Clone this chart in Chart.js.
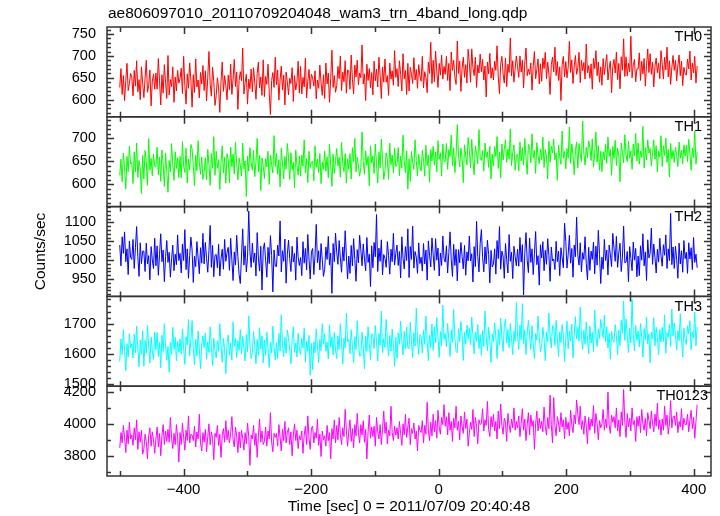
<!DOCTYPE html>
<html>
<head>
<meta charset="utf-8">
<title>wam3 trn 4band light curve</title>
<script src="https://cdn.jsdelivr.net/npm/chart.js@4.4.1/dist/chart.umd.min.js"></script>
<style>
  html, body { margin: 0; padding: 0; background: #fff; }
  #wrap { position: relative; width: 720px; height: 516px; }
</style>
</head>
<body>
<div id="wrap"><canvas id="lc" width="720" height="516"></canvas></div>
<script>
// ═══════════════════════════════════════════════════
// QDP light curve (WAM TH0..TH3 + sum) in Chart.js
// ═══════════════════════════════════════════════════

const TITLE = 'ae806097010_20110709204048_wam3_trn_4band_long.qdp';
const X_TITLE = 'Time [sec] 0 = 2011/07/09 20:40:48';
const Y_TITLE = 'Counts/sec';

// time bins: first bin centre and bin width (sec)
const T_START = -500;
const T_BIN = 1.89;

const TH0 = [
  628, 671, 612, 655, 598, 644, 683, 621, 637, 660, 652, 609, 667, 631, 689, 618, 646, 600, 675, 637,
  605, 649, 690, 617, 633, 668, 586, 642, 659, 624, 661, 624, 694, 643, 588, 657, 615, 680, 639, 603,
  701, 611, 646, 630, 675, 594, 652, 620, 667, 638, 648, 672, 614, 699, 633, 590, 659, 626, 684, 645,
  583, 657, 616, 693, 629, 645, 604, 662, 636, 678, 621, 666, 597, 651, 710, 635, 608, 674, 642, 587,
  609, 650, 627, 571, 641, 686, 619, 655, 632, 600, 656, 623, 681, 612, 647, 692, 630, 663, 578, 644,
  664, 643, 718, 613, 639, 658, 590, 647, 625, 670, 618, 673, 639, 601, 660, 686, 627, 652, 610, 691,
  607, 653, 635, 681, 616, 566, 644, 662, 628, 697, 634, 668, 599, 645, 677, 622, 656, 588, 663, 641,
  611, 649, 637, 673, 596, 655, 622, 640, 688, 615, 676, 613, 651, 629, 695, 604, 642, 669, 625, 658,
  650, 631, 666, 602, 645, 626, 679, 638, 610, 657, 603, 684, 636, 661, 594, 649, 713, 628, 655, 617,
  632, 676, 648, 700, 621, 663, 641, 689, 615, 668, 666, 624, 702, 647, 613, 679, 652, 690, 634, 661,
  650, 725, 636, 659, 598, 681, 644, 671, 627, 662, 611, 688, 643, 670, 629, 697, 656, 603, 675, 640,
  693, 640, 655, 610, 684, 647, 666, 633, 712, 651, 671, 630, 689, 658, 620, 705, 648, 667, 612, 683,
  620, 674, 658, 637, 696, 645, 669, 626, 680, 654, 642, 699, 627, 664, 651, 616, 686, 660, 731, 637,
  690, 641, 711, 665, 628, 683, 656, 702, 647, 676, 658, 699, 644, 683, 621, 709, 667, 690, 652, 635,
  734, 660, 688, 619, 672, 697, 651, 680, 638, 715, 684, 640, 716, 673, 655, 697, 628, 679, 661, 704,
  664, 692, 645, 677, 606, 686, 659, 706, 649, 673, 645, 688, 667, 723, 652, 614, 681, 699, 659, 638,
  695, 630, 681, 662, 741, 654, 689, 640, 671, 700, 676, 651, 700, 663, 690, 627, 684, 718, 655, 670,
  658, 684, 622, 677, 710, 648, 669, 693, 636, 682, 642, 695, 671, 708, 648, 686, 659, 612, 680, 697,
  663, 720, 655, 687, 644, 675, 598, 680, 699, 652, 687, 650, 674, 733, 662, 691, 637, 677, 701, 658,
  673, 708, 639, 690, 666, 685, 647, 727, 661, 678, 649, 682, 624, 694, 671, 712, 655, 686, 640, 675,
  633, 694, 657, 681, 703, 645, 672, 688, 616, 676, 692, 661, 709, 646, 683, 625, 698, 667, 739, 653,
  698, 654, 683, 664, 745, 650, 679, 692, 641, 670, 670, 707, 644, 688, 659, 694, 631, 678, 716, 662,
  705, 658, 686, 629, 677, 695, 661, 684, 648, 712, 681, 647, 697, 668, 720, 652, 689, 635, 674, 701,
  667, 690, 643, 679, 702, 655, 688, 632, 674, 660, 656, 693, 670, 711, 645, 684, 661, 699, 638, 677
];

const TH1 = [
  620, 655, 606, 668, 637, 590, 661, 628, 683, 645, 648, 602, 671, 627, 690, 615, 652, 634, 580, 663,
  612, 674, 650, 598, 700, 631, 657, 619, 666, 640, 638, 681, 621, 659, 607, 675, 644, 596, 668, 629,
  583, 652, 627, 689, 644, 609, 671, 635, 658, 615, 661, 614, 693, 640, 626, 679, 603, 655, 632, 687,
  677, 641, 597, 663, 630, 695, 648, 622, 660, 611, 626, 658, 610, 676, 643, 598, 667, 635, 704, 620,
  672, 636, 654, 589, 646, 684, 625, 659, 603, 667, 653, 604, 681, 639, 666, 623, 692, 645, 610, 657,
  642, 618, 690, 634, 651, 574, 662, 629, 680, 647, 631, 674, 617, 649, 700, 628, 663, 587, 658, 640,
  613, 656, 638, 672, 600, 664, 643, 625, 706, 639, 668, 622, 654, 595, 679, 646, 612, 661, 633, 689,
  658, 611, 669, 632, 648, 593, 675, 641, 620, 662, 618, 664, 640, 697, 625, 656, 604, 672, 637, 649,
  651, 608, 684, 637, 655, 626, 667, 602, 649, 633, 673, 629, 660, 615, 687, 641, 596, 666, 624, 652,
  678, 640, 659, 616, 692, 645, 628, 667, 603, 656, 633, 667, 612, 680, 650, 700, 627, 659, 640, 618,
  637, 714, 650, 622, 673, 641, 661, 597, 684, 646, 662, 624, 688, 645, 603, 671, 636, 698, 655, 611,
  630, 669, 654, 611, 690, 643, 664, 625, 679, 639, 644, 680, 619, 662, 636, 707, 650, 626, 673, 590,
  656, 607, 672, 648, 633, 697, 652, 618, 666, 641, 629, 674, 653, 618, 685, 641, 664, 605, 676, 651,
  683, 642, 671, 627, 695, 655, 669, 618, 688, 650, 650, 689, 633, 676, 661, 707, 641, 680, 626, 664,
  730, 664, 638, 679, 657, 604, 686, 661, 643, 702, 673, 636, 698, 652, 621, 684, 667, 645, 719, 659,
  652, 674, 629, 690, 659, 671, 637, 683, 612, 666, 640, 682, 661, 704, 635, 670, 614, 688, 653, 676,
  697, 648, 677, 655, 721, 641, 669, 686, 631, 663, 666, 629, 692, 651, 680, 642, 700, 658, 622, 687,
  680, 647, 710, 658, 674, 624, 691, 662, 645, 677, 654, 703, 637, 676, 662, 612, 694, 648, 683, 669,
  699, 653, 668, 609, 685, 660, 644, 716, 657, 672, 634, 678, 657, 725, 646, 688, 663, 621, 675, 692,
  636, 689, 664, 650, 738, 667, 642, 681, 658, 695, 681, 652, 699, 638, 667, 714, 649, 684, 631, 672,
  628, 671, 654, 687, 646, 703, 661, 676, 620, 683, 657, 696, 641, 679, 662, 606, 690, 670, 647, 708,
  665, 649, 694, 657, 673, 633, 688, 662, 711, 651, 690, 644, 672, 659, 726, 636, 680, 653, 697, 668,
  678, 640, 669, 697, 655, 684, 627, 672, 660, 706, 639, 684, 663, 701, 648, 676, 616, 689, 656, 674,
  648, 681, 663, 639, 692, 657, 674, 645, 686, 662, 685, 650, 698, 667, 631, 679, 658, 716, 644, 671
];

const TH2 = [
  1040, 985, 1062, 1018, 1075, 996, 1030, 962, 1051, 1008, 1002, 1055, 978, 1033, 1089, 1010, 957, 1046, 991, 1024,
  1024, 970, 1045, 990, 1012, 948, 1036, 1001, 978, 1058, 985, 1038, 960, 1015, 1070, 996, 1027, 943, 1009, 1052,
  994, 1021, 955, 1004, 1040, 972, 1016, 988, 1067, 999, 1018, 966, 1043, 999, 1081, 975, 1030, 952, 1012, 1061,
  1027, 941, 1010, 983, 1049, 1006, 964, 1033, 992, 1071, 990, 1047, 1005, 968, 1026, 1092, 981, 1039, 956, 1013,
  1015, 980, 1042, 958, 1003, 1029, 976, 1055, 997, 1020, 1034, 973, 1058, 1001, 946, 1022, 987, 1066, 1009, 962,
  938, 1011, 1083, 987, 1038, 969, 1007, 1130, 1022, 981, 1045, 994, 1019, 958, 1073, 1006, 971, 1037, 921, 1028,
  1046, 1000, 955, 1034, 991, 1065, 1012, 916, 1027, 984, 983, 1040, 1011, 1104, 969, 1025, 997, 1056, 939, 1016,
  1053, 1004, 970, 1037, 995, 1018, 947, 1061, 1008, 986, 1007, 959, 1049, 992, 1031, 974, 1068, 1003, 950, 1022,
  1031, 962, 1014, 1095, 993, 1025, 974, 1044, 1001, 957, 976, 1035, 1002, 1063, 987, 1019, 912, 1044, 996, 1072,
  1020, 989, 1052, 1006, 968, 1035, 998, 1078, 1011, 950, 1011, 965, 1039, 985, 1057, 1002, 944, 1028, 993, 1066,
  1027, 985, 1043, 1003, 972, 1060, 994, 1016, 930, 1038, 980, 1047, 1009, 1121, 970, 1032, 997, 1054, 961, 1015,
  1005, 981, 1049, 1012, 963, 1029, 996, 1071, 987, 1018, 1040, 986, 1023, 953, 1062, 1005, 977, 1036, 999, 1083,
  954, 1036, 1002, 1090, 979, 1023, 1008, 965, 1046, 991, 1008, 971, 1044, 990, 1027, 947, 1051, 1013, 982, 1059,
  1014, 973, 1057, 1000, 1032, 958, 1019, 986, 1064, 1004, 995, 1038, 966, 1020, 1075, 1001, 957, 1042, 986, 1029,
  945, 1028, 993, 1047, 1010, 977, 1039, 960, 1022, 998, 1064, 998, 1017, 942, 1036, 983, 1103, 1010, 969, 1045,
  1081, 1007, 969, 1035, 990, 1053, 1015, 940, 1026, 982, 990, 1030, 963, 1052, 1004, 1089, 976, 1024, 1011, 952,
  1044, 1001, 966, 1068, 997, 1021, 951, 1037, 1009, 985, 1029, 984, 1060, 995, 1041, 908, 1018, 1073, 1000, 967,
  1059, 994, 1030, 962, 1017, 1076, 988, 1012, 934, 1041, 1006, 1049, 972, 1026, 989, 1057, 1013, 944, 1035, 998,
  1003, 975, 1050, 996, 1024, 959, 1033, 1006, 980, 1098, 1050, 979, 1016, 1066, 992, 1031, 955, 1040, 1009, 1114,
  1013, 987, 1046, 969, 1020, 1002, 1062, 991, 948, 1034, 973, 1024, 1002, 1048, 964, 1037, 987, 1079, 1015, 938,
  1008, 976, 1055, 999, 1027, 961, 1040, 1014, 983, 1071, 1032, 997, 1063, 981, 1019, 1045, 970, 1008, 1090, 993,
  995, 1023, 943, 1036, 1005, 972, 1048, 1000, 1031, 956, 1011, 959, 1038, 1000, 1070, 985, 1022, 946, 1054, 1006,
  1018, 1085, 989, 1043, 1007, 966, 1029, 995, 1058, 1011, 984, 1041, 1013, 1067, 978, 1030, 999, 1124, 988, 1035,
  978, 1037, 1002, 952, 1045, 990, 1025, 968, 1052, 1004, 1021, 965, 1046, 1003, 1033, 975, 1060, 994, 1016, 980
];

const TH3 = [
  1575, 1650, 1598, 1680, 1612, 1545, 1634, 1590, 1667, 1620, 1633, 1587, 1665, 1604, 1692, 1618, 1558, 1646, 1599, 1677,
  1560, 1645, 1603, 1695, 1628, 1570, 1656, 1611, 1582, 1672, 1614, 1671, 1592, 1639, 1555, 1662, 1608, 1700, 1627, 1580,
  1625, 1540, 1638, 1599, 1688, 1615, 1655, 1578, 1641, 1606, 1649, 1600, 1683, 1619, 1566, 1657, 1630, 1714, 1594, 1643,
  1710, 1622, 1565, 1649, 1594, 1676, 1617, 1551, 1633, 1660, 1621, 1669, 1583, 1640, 1605, 1690, 1629, 1561, 1652, 1611,
  1587, 1644, 1609, 1700, 1626, 1573, 1652, 1614, 1535, 1637, 1663, 1596, 1637, 1580, 1706, 1625, 1653, 1588, 1644, 1612,
  1681, 1601, 1658, 1620, 1577, 1664, 1608, 1725, 1631, 1584, 1604, 1674, 1626, 1568, 1648, 1595, 1687, 1616, 1660, 1571,
  1647, 1595, 1673, 1618, 1556, 1639, 1603, 1692, 1623, 1581, 1637, 1585, 1668, 1610, 1729, 1629, 1592, 1655, 1602, 1679,
  1654, 1612, 1568, 1645, 1690, 1605, 1636, 1590, 1668, 1616, 1598, 1652, 1620, 1685, 1574, 1643, 1609, 1662, 1530, 1635,
  1548, 1640, 1604, 1683, 1627, 1572, 1650, 1611, 1700, 1633, 1667, 1609, 1640, 1584, 1696, 1622, 1657, 1597, 1671, 1613,
  1585, 1660, 1614, 1700, 1638, 1567, 1652, 1620, 1735, 1641, 1648, 1601, 1680, 1626, 1572, 1657, 1615, 1710, 1639, 1593,
  1596, 1672, 1627, 1551, 1658, 1609, 1690, 1635, 1580, 1667, 1661, 1618, 1694, 1640, 1577, 1668, 1629, 1742, 1604, 1651,
  1622, 1714, 1644, 1593, 1661, 1610, 1682, 1631, 1560, 1655, 1585, 1669, 1632, 1708, 1644, 1597, 1675, 1616, 1689, 1620,
  1618, 1705, 1640, 1588, 1670, 1626, 1751, 1646, 1599, 1664, 1657, 1603, 1678, 1632, 1725, 1645, 1578, 1663, 1622, 1699,
  1612, 1690, 1637, 1720, 1655, 1589, 1674, 1628, 1761, 1648, 1668, 1624, 1701, 1646, 1592, 1679, 1638, 1747, 1656, 1609,
  1604, 1683, 1640, 1707, 1662, 1579, 1671, 1633, 1695, 1650, 1685, 1631, 1722, 1660, 1600, 1673, 1642, 1697, 1618, 1664,
  1596, 1678, 1625, 1742, 1657, 1610, 1688, 1644, 1572, 1666, 1640, 1703, 1657, 1586, 1681, 1629, 1718, 1653, 1609, 1690,
  1715, 1636, 1680, 1621, 1700, 1652, 1598, 1676, 1641, 1770, 1662, 1615, 1695, 1647, 1766, 1634, 1680, 1599, 1667, 1711,
  1660, 1615, 1693, 1634, 1585, 1668, 1646, 1725, 1656, 1607, 1627, 1688, 1652, 1578, 1673, 1641, 1735, 1660, 1620, 1694,
  1684, 1629, 1711, 1651, 1592, 1673, 1638, 1697, 1661, 1575, 1655, 1708, 1617, 1676, 1643, 1699, 1587, 1664, 1723, 1649,
  1687, 1643, 1755, 1658, 1616, 1679, 1632, 1706, 1649, 1601, 1692, 1636, 1671, 1608, 1744, 1658, 1625, 1683, 1651, 1714,
  1682, 1654, 1728, 1640, 1690, 1620, 1669, 1583, 1675, 1647, 1639, 1697, 1662, 1598, 1679, 1628, 1711, 1669, 1775, 1645,
  1716, 1659, 1605, 1686, 1637, 1780, 1663, 1611, 1694, 1645, 1676, 1623, 1700, 1657, 1590, 1684, 1646, 1722, 1633, 1666,
  1571, 1672, 1650, 1719, 1627, 1688, 1655, 1597, 1681, 1639, 1688, 1641, 1729, 1603, 1670, 1655, 1697, 1624, 1748, 1659,
  1702, 1661, 1613, 1677, 1644, 1733, 1652, 1590, 1685, 1648, 1631, 1693, 1667, 1710, 1614, 1672, 1653, 1738, 1627, 1689
];

const TH0123 = [
  3850, 3945, 3880, 3990, 3915, 3820, 3960, 3875, 4010, 3905, 3930, 3865, 3975, 3900, 4025, 3840, 3950, 3885, 3960, 3810,
  3840, 3935, 3890, 3780, 3925, 3975, 3860, 3950, 3900, 3815, 3905, 3980, 3855, 3940, 3800, 3925, 3995, 3870, 3955, 3890,
  3965, 3885, 4040, 3910, 3845, 3940, 3870, 3995, 3920, 3760, 3945, 3870, 4005, 3915, 3835, 3960, 3895, 4050, 3880, 3935,
  3930, 3895, 3985, 3855, 3950, 3905, 4060, 3880, 3830, 3945, 3885, 3965, 3825, 3920, 4000, 3870, 3950, 3910, 3775, 3940,
  3915, 3990, 3865, 3935, 3790, 3925, 3970, 3885, 4020, 3900, 3960, 3880, 3935, 4045, 3900, 3855, 3980, 3925, 3820, 3950,
  3850, 3960, 3910, 3835, 3945, 3875, 4005, 3920, 3740, 3930, 3905, 3990, 3865, 3940, 3790, 3925, 4030, 3885, 3955, 3870,
  3890, 3980, 3860, 3955, 3905, 4070, 3885, 3825, 3940, 3915, 3940, 3860, 3995, 3915, 3830, 3965, 3895, 4015, 3880, 3945,
  3975, 3870, 3950, 3800, 3930, 4000, 3895, 3960, 3845, 3925, 3900, 3955, 3815, 3930, 3985, 3870, 4050, 3910, 3840, 3975,
  3985, 3880, 3945, 3910, 4030, 3865, 3935, 3795, 3955, 3900, 3925, 3860, 3990, 3895, 3945, 3780, 3970, 3905, 4025, 3880,
  3990, 3900, 4040, 3935, 3870, 3975, 3920, 4090, 3955, 3860, 3955, 4025, 3890, 3970, 3850, 3995, 3925, 4065, 3945, 3880,
  3995, 3930, 4020, 3885, 3965, 3780, 3950, 4055, 3910, 3980, 3920, 3985, 3860, 4040, 3950, 3905, 3995, 3870, 3965, 4080,
  3940, 4010, 3875, 3960, 3925, 4110, 3945, 3895, 3985, 3930, 3975, 3905, 4015, 3940, 3865, 4000, 3930, 4060, 3915, 3980,
  4035, 3870, 3970, 3940, 4005, 3905, 3955, 3830, 3990, 3960, 3945, 4020, 3880, 3990, 3935, 4135, 3960, 3895, 4010, 3925,
  4060, 3950, 4020, 3910, 4085, 3980, 3935, 4040, 3995, 4120, 3985, 4045, 3930, 4070, 3960, 4015, 3890, 4035, 3975, 4110,
  3960, 4015, 3900, 4050, 3985, 3940, 4075, 3970, 4030, 3860, 3940, 4010, 3965, 4090, 3920, 4040, 3985, 3875, 4025, 3995,
  4005, 4095, 3955, 4025, 3990, 4140, 3965, 3920, 4045, 3980, 4060, 3955, 4015, 3905, 4080, 3970, 4125, 3990, 3935, 4035,
  4010, 3890, 4065, 3995, 3945, 4030, 3975, 4100, 3960, 4015, 3975, 4050, 3920, 4005, 4095, 3960, 4030, 3895, 3995, 4070,
  3930, 4055, 3985, 4020, 3840, 4000, 4080, 3955, 4035, 3970, 4015, 3950, 4105, 3985, 3930, 4040, 3970, 4180, 3995, 3880,
  4165, 3990, 3925, 4045, 4005, 3950, 4070, 3980, 4025, 3905, 4040, 3965, 4010, 3925, 4085, 3990, 3945, 4055, 4000, 4150,
  4060, 3995, 4110, 3965, 4020, 3935, 4050, 3985, 3875, 4040, 3960, 4030, 3985, 4115, 3940, 4065, 4005, 3900, 4020, 3975,
  4000, 4090, 3960, 4030, 3975, 4200, 3990, 3940, 4055, 4010, 4045, 3975, 4100, 3955, 4025, 3920, 4075, 3990, 4215, 4010,
  3915, 4065, 3980, 4035, 3955, 4100, 3995, 4020, 3890, 4045, 3985, 4050, 3945, 4090, 4000, 3960, 4035, 3925, 4070, 4020,
  3970, 4080, 4005, 3950, 4060, 3985, 4130, 3965, 4025, 3930, 4030, 3960, 4110, 3990, 4055, 3935, 4000, 4145, 3975, 4045,
  4050, 3990, 4075, 3945, 4015, 3980, 4095, 3960, 4035, 3995, 3995, 4060, 3950, 4025, 4085, 3970, 4040, 3910, 4015, 4120
];

const SERIES = [TH0, TH1, TH2, TH3, TH0123];
const PANEL_NAMES = ['TH0', 'TH1', 'TH2', 'TH3', 'TH0123'];
const PANEL_COLORS = ['#ff0000', '#00ff00', '#0000ff', '#00ffff', '#ff00ff'];

// y ranges and tick labels per panel (top → bottom)
const Y_MIN = [561, 552, 904, 1494, 3673];
const Y_MAX = [766, 747, 1142, 1790, 4236];
const Y_LABELS = [
  [600, 650, 700, 750],
  [600, 650, 700],
  [950, 1000, 1050, 1100],
  [1500, 1600, 1700],
  [3800, 4000, 4200]
];
const Y_MINOR = [10, 10, 10, 20, 100];

const X_MIN = -520;
const X_MAX = 427;
const X_LABELS = [-400, -200, 0, 200, 400];
const X_MINOR = 100;

const FONT = '"Liberation Sans", Arial, Helvetica, sans-serif';
const FRAME = '#333';

// ─── Scales ────────────────────────────────────────
function panelScale(i) {
  return {
    type: 'linear',
    position: 'left',
    stack: 'panels',
    stackWeight: 1,
    weight: 10 - i,
    min: Y_MIN[i],
    max: Y_MAX[i],
    afterBuildTicks: s => { s.ticks = Y_LABELS[i].map(v => ({ value: v })); },
    afterFit: s => { s.width = 107; },
    grid: { display: false, drawTicks: false },
    border: { display: false },
    ticks: {
      color: '#000', font: { family: FONT, size: 14.5 }, padding: 11, autoSkip: false,
      callback: v => String(v)
    }
  };
}

const scales = {
  x: {
    type: 'linear',
    position: 'bottom',
    min: X_MIN,
    max: X_MAX,
    afterBuildTicks: s => { s.ticks = X_LABELS.map(v => ({ value: v })); },
    afterFit: s => { s.height = 40; },
    grid: { display: false, drawTicks: false },
    border: { display: false },
    ticks: {
      color: '#000', font: { family: FONT, size: 15 }, padding: 5,
      maxRotation: 0, autoSkip: false,
      callback: v => String(v).replace('-', '\u2212')
    },
    title: {
      display: true, text: X_TITLE, color: '#000',
      font: { family: FONT, size: 15.5 }, padding: { top: 0, bottom: 0 }
    }
  }
};
SERIES.forEach((_, i) => { scales['y' + i] = panelScale(i); });

// ─── Frame / ticks / labels (QDP style, ticks inward) ──
const qdpFrame = {
  id: 'qdpFrame',
  afterDatasetsDraw(chart) {
    const { ctx, chartArea: a } = chart;
    const xs = chart.scales.x;
    ctx.save();
    ctx.strokeStyle = FRAME;
    ctx.lineWidth = 1.5;

    SERIES.forEach((_, i) => {
      const ys = chart.scales['y' + i];
      const top = ys.top, bot = ys.bottom;
      ctx.strokeRect(a.left, top, a.right - a.left, bot - top);

      ctx.beginPath();
      // y ticks on left + right
      const first = Math.ceil(Y_MIN[i] / Y_MINOR[i]) * Y_MINOR[i];
      for (let v = first; v <= Y_MAX[i]; v += Y_MINOR[i]) {
        const y = Math.round(ys.getPixelForValue(v)) + 0.5;
        const len = Y_LABELS[i].includes(v) ? 7 : 4;
        ctx.moveTo(a.left, y); ctx.lineTo(a.left + len, y);
        ctx.moveTo(a.right, y); ctx.lineTo(a.right - len, y);
      }
      // x ticks on top + bottom of each panel
      const x0 = Math.ceil(X_MIN / X_MINOR) * X_MINOR;
      for (let v = x0; v <= X_MAX; v += X_MINOR) {
        const x = Math.round(xs.getPixelForValue(v)) + 0.5;
        const len = X_LABELS.includes(v) ? 7 : 5;
        ctx.moveTo(x, top); ctx.lineTo(x, top + len);
        ctx.moveTo(x, bot); ctx.lineTo(x, bot - len);
      }
      ctx.stroke();

      // panel label
      ctx.fillStyle = '#000';
      ctx.font = '14.5px ' + FONT;
      ctx.textAlign = 'right';
      ctx.textBaseline = 'top';
      const lx = i === SERIES.length - 1 ? a.right - 3 : a.right - 9;
      ctx.fillText(PANEL_NAMES[i], lx, top + 3);
    });

    // plot title
    ctx.fillStyle = '#000';
    ctx.font = '15.5px ' + FONT;
    ctx.textAlign = 'left';
    ctx.textBaseline = 'middle';
    ctx.fillText(TITLE, a.left + 1, 14);

    // shared y title
    ctx.translate(41, (a.top + a.bottom) / 2);
    ctx.rotate(-Math.PI / 2);
    ctx.textAlign = 'center';
    ctx.fillText(Y_TITLE, 0, 0);
    ctx.restore();
  }
};

// ─── Build chart ───────────────────────────────────
new Chart(document.getElementById('lc'), {
  type: 'line',
  data: {
    datasets: SERIES.map((vals, i) => ({
      label: PANEL_NAMES[i],
      data: vals.map((v, k) => ({ x: T_START + k * T_BIN, y: v })),
      xAxisID: 'x',
      yAxisID: 'y' + i,
      borderColor: PANEL_COLORS[i],
      borderWidth: 1,
      pointRadius: 0,
      tension: 0,
      fill: false
    }))
  },
  options: {
    responsive: false,
    animation: false,
    layout: { padding: { top: 27, right: 9, bottom: 0, left: 0 } },
    plugins: { legend: { display: false }, tooltip: { enabled: false } },
    scales
  },
  plugins: [qdpFrame]
});
</script>
</body>
</html>
